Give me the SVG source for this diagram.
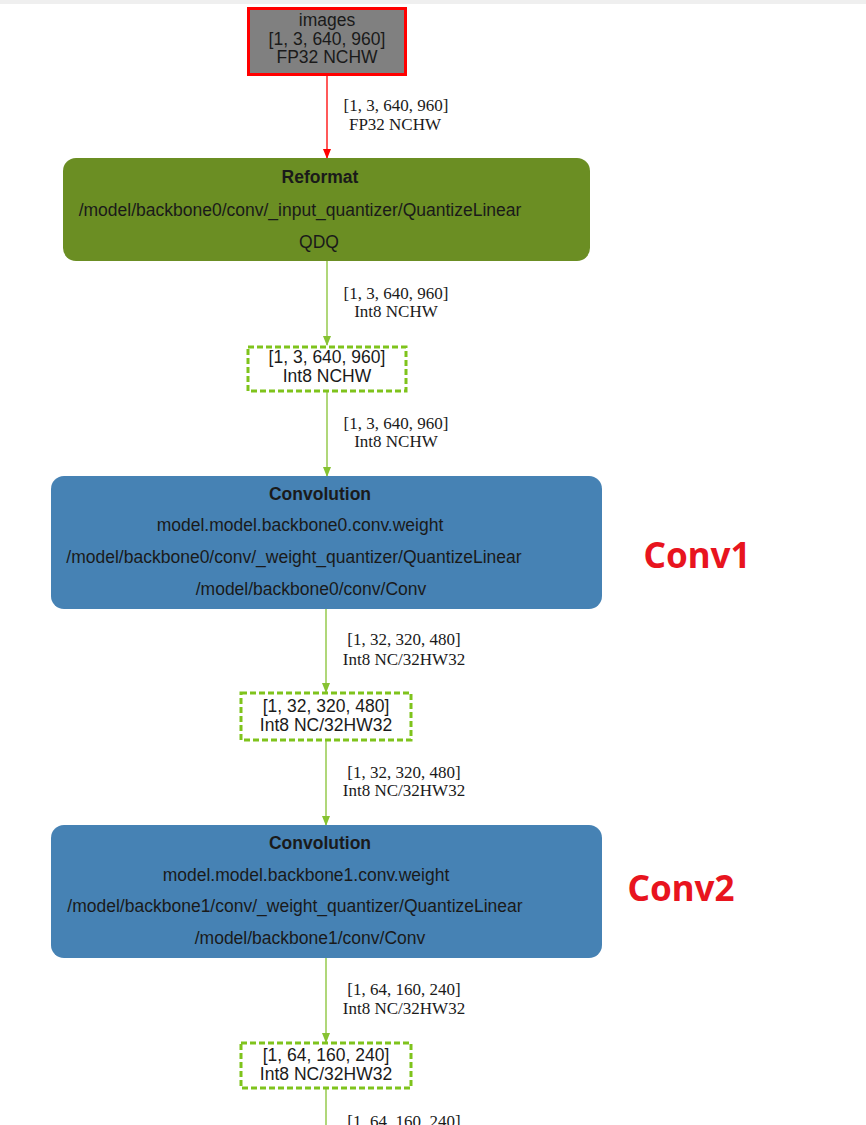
<svg xmlns="http://www.w3.org/2000/svg" width="866" height="1125" viewBox="0 0 866 1125">
<style>
.nt{font-family:"Liberation Sans",Arial,sans-serif;font-size:17.5px;fill:#1a1a1a;text-anchor:middle}
.b{font-weight:bold}
.el{font-family:"Liberation Serif","Times New Roman",serif;font-size:17px;fill:#1a1a1a;text-anchor:middle}
.tens{fill:#ffffff;stroke:#7fc31c;stroke-width:3;stroke-dasharray:6 3}
.edge{stroke:#86c232;stroke-width:1.3;fill:none}
.ann{font-family:"Noto Sans","Liberation Sans",sans-serif;font-size:35px;font-weight:bold;fill:#e8141e}
</style>
<defs>
<marker id="ag" markerWidth="10" markerHeight="10" refX="9" refY="5" orient="auto" markerUnits="userSpaceOnUse">
<path d="M0,1 L10,5 L0,9 z" fill="#86c232"/>
</marker>
<marker id="ar" markerWidth="10" markerHeight="10" refX="9" refY="5" orient="auto" markerUnits="userSpaceOnUse">
<path d="M0,1 L10,5 L0,9 z" fill="#ff0000"/>
</marker>
</defs>
<rect x="0" y="0" width="866" height="1125" fill="#ffffff"/>
<rect x="0" y="0" width="866" height="4" fill="#efefef"/>

<g id="connectors">
<line x1="327" y1="75" x2="327" y2="158" stroke="#ff0000" stroke-width="1.3" marker-end="url(#ar)"/>
<text class="el" x="396" y="111">[1, 3, 640, 960]</text>
<text class="el" x="395" y="130">FP32 NCHW</text>
<line class="edge" x1="327" y1="261" x2="327" y2="345" marker-end="url(#ag)"/>
<text class="el" x="396" y="299">[1, 3, 640, 960]</text>
<text class="el" x="396" y="317">Int8 NCHW</text>
<line class="edge" x1="327" y1="392" x2="327" y2="476" marker-end="url(#ag)"/>
<text class="el" x="396" y="429">[1, 3, 640, 960]</text>
<text class="el" x="396" y="447">Int8 NCHW</text>
<line class="edge" x1="326" y1="609" x2="326" y2="692" marker-end="url(#ag)"/>
<text class="el" x="404" y="645">[1, 32, 320, 480]</text>
<text class="el" x="404" y="665">Int8 NC/32HW32</text>
<line class="edge" x1="326" y1="741" x2="326" y2="825" marker-end="url(#ag)"/>
<text class="el" x="404" y="778">[1, 32, 320, 480]</text>
<text class="el" x="404" y="796">Int8 NC/32HW32</text>
<line class="edge" x1="326" y1="958" x2="326" y2="1042" marker-end="url(#ag)"/>
<text class="el" x="404" y="995">[1, 64, 160, 240]</text>
<text class="el" x="404" y="1014">Int8 NC/32HW32</text>
<line class="edge" x1="326" y1="1089" x2="326" y2="1125"/>
<text class="el" x="404" y="1127">[1, 64, 160, 240]</text>
</g>

<g id="images">
<rect x="248.5" y="8.5" width="157" height="66" fill="#808080" stroke="#ff0000" stroke-width="3"/>
<text class="nt" x="327" y="26">images</text>
<text class="nt" x="327" y="45">[1, 3, 640, 960]</text>
<text class="nt" x="327" y="63">FP32 NCHW</text>
</g>

<g id="reformat">
<rect x="63" y="158" width="527" height="103" rx="13" fill="#6b8e23"/>
<text class="nt b" x="320" y="183">Reformat</text>
<text class="nt" x="300" y="216">/model/backbone0/conv/_input_quantizer/QuantizeLinear</text>
<text class="nt" x="319" y="248">QDQ</text>
</g>

<g id="tensor1">
<rect class="tens" x="248" y="347" width="158" height="44"/>
<text class="nt" x="327" y="363">[1, 3, 640, 960]</text>
<text class="nt" x="327" y="382">Int8 NCHW</text>
</g>

<g id="conv1">
<rect x="51" y="476" width="551" height="133" rx="13" fill="#4682b4"/>
<text class="nt b" x="320" y="500">Convolution</text>
<text class="nt" x="300" y="531">model.model.backbone0.conv.weight</text>
<text class="nt" x="294" y="563">/model/backbone0/conv/_weight_quantizer/QuantizeLinear</text>
<text class="nt" x="311" y="595">/model/backbone0/conv/Conv</text>
</g>

<g id="tensor2">
<rect class="tens" x="241" y="693" width="170" height="47"/>
<text class="nt" x="326" y="712">[1, 32, 320, 480]</text>
<text class="nt" x="326" y="731">Int8 NC/32HW32</text>
</g>

<g id="conv2">
<rect x="51" y="825" width="551" height="133" rx="13" fill="#4682b4"/>
<text class="nt b" x="320" y="849">Convolution</text>
<text class="nt" x="306" y="881">model.model.backbone1.conv.weight</text>
<text class="nt" x="295" y="912">/model/backbone1/conv/_weight_quantizer/QuantizeLinear</text>
<text class="nt" x="310" y="944">/model/backbone1/conv/Conv</text>
</g>

<g id="tensor3">
<rect class="tens" x="241" y="1043" width="170" height="45"/>
<text class="nt" x="326" y="1061">[1, 64, 160, 240]</text>
<text class="nt" x="326" y="1080">Int8 NC/32HW32</text>
</g>

<g id="annotations">
<text class="ann" x="697" y="568" text-anchor="middle">Conv1</text>
<text class="ann" x="681" y="901" text-anchor="middle">Conv2</text>
</g>
</svg>
